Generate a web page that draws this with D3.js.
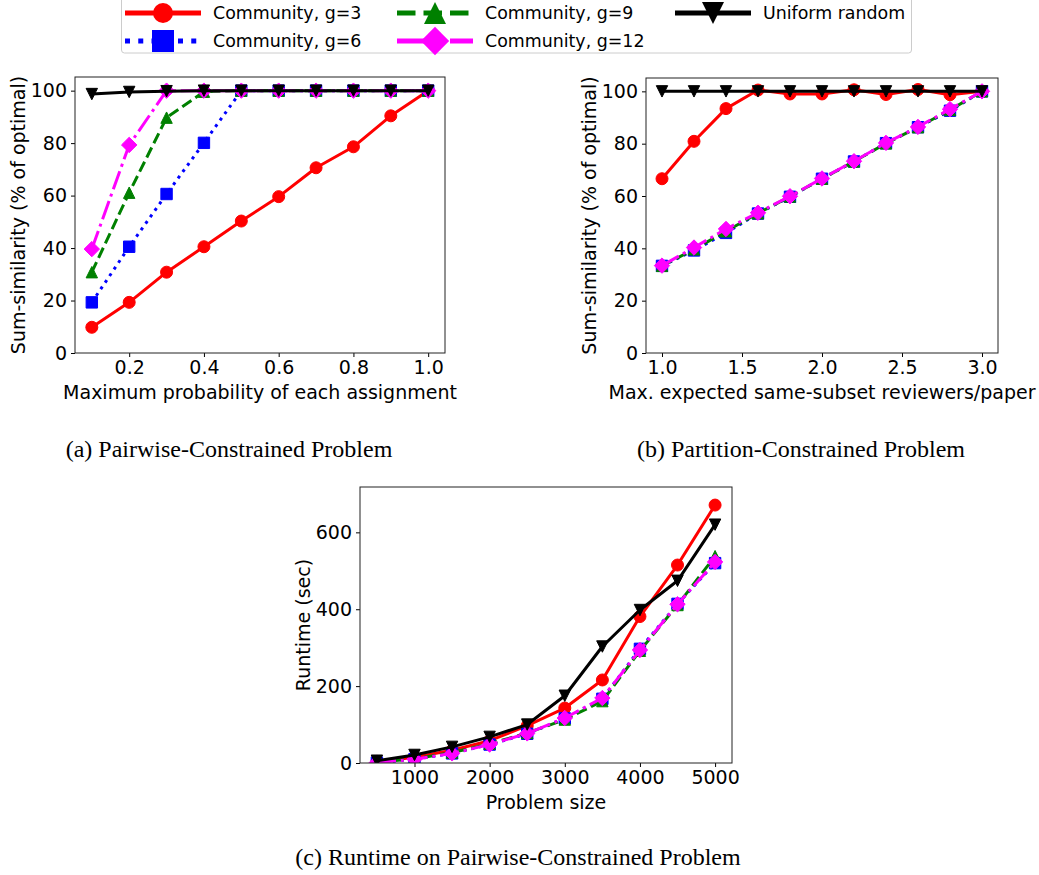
<!DOCTYPE html>
<html lang="en">
<head>
  <meta charset="UTF-8">
  <title>Sum-similarity and runtime</title>
  <script src="https://d3js.org/d3.v7.min.js"></script>
  <style>
    body {
      margin: 0;
      background: #fff;
      overflow: hidden;
    }
    svg text {
      font-family: "DejaVu Sans", sans-serif;
      fill: #000;
    }
    .caption {
      font-family: "Liberation Serif", "Times New Roman", serif !important;
      font-size: 24px;
    }
  </style>
</head>
<body>
  <svg id="chart" width="1039" height="875"></svg>

  <script>
    // ---- data ----
    const seriesNames = ["Community, g=3", "Community, g=6", "Community, g=9", "Community, g=12", "Uniform random"];

    // (a) pairwise-constrained
    const xA = [0.1, 0.2, 0.3, 0.4, 0.5, 0.6, 0.7, 0.8, 0.9, 1.0];
    const aG3 = [9.8, 19.3, 30.8, 40.5, 50.3, 59.6, 70.6, 78.6, 90.4, 100];
    const aG6 = [19.3, 40.5, 60.6, 80.1, 100, 100, 100, 100, 100, 100];
    const aG9 = [30.8, 61.1, 89.7, 99.6, 100, 100, 100, 100, 100, 100];
    const aG12 = [39.6, 79.3, 100, 100, 100, 100, 100, 100, 100, 100];
    const aUniform = [98.7, 99.5, 99.8, 100, 100, 100, 100, 100, 100, 100];

    // (b) partition-constrained
    const xB = [1.0, 1.2, 1.4, 1.6, 1.8, 2.0, 2.2, 2.4, 2.6, 2.8, 3.0];
    const bG3 = [66.6, 80.9, 93.4, 100.5, 99.0, 99.0, 100.6, 98.8, 100.7, 98.7, 100];
    const bG6 = [33.3, 39.2, 45.9, 53.3, 59.7, 66.6, 73.2, 80.2, 86.3, 92.6, 100];
    const bG9 = [33.3, 39.6, 46.5, 53.4, 59.8, 66.6, 73.2, 80.1, 86.3, 92.9, 100];
    const bG12 = [33.4, 40.3, 47.4, 53.6, 59.9, 66.7, 73.3, 80.3, 86.4, 93.2, 100];
    const bUniform = [100, 100, 100, 100, 100, 100, 100, 100, 100, 100, 100];

    // (c) runtime
    const xC = [500, 1000, 1500, 2000, 2500, 3000, 3500, 4000, 4500, 5000];
    const cG3 = [3, 15, 33, 58, 97, 143, 216, 381, 515, 671];
    const cG6 = [1, 10, 25, 48, 76, 116, 167, 297, 414, 520];
    const cG9 = [2, 11, 27, 50, 78, 113, 161, 292, 411, 538];
    const cG12 = [1, 10, 25, 48, 77, 117, 169, 294, 413, 523];
    const cUniform = [6, 21, 42, 68, 100, 175, 303, 398, 474, 620];

    // ticks
    const aXTicks = [0.2, 0.4, 0.6, 0.8, 1.0];
    const abYTicks = [0, 20, 40, 60, 80, 100];
    const bXTicks = [1.0, 1.5, 2.0, 2.5, 3.0];
    const cXTicks = [1000, 2000, 3000, 4000, 5000];
    const cYTicks = [0, 200, 400, 600];

    // ---- styles ----
    const colors = ["#ff0000", "#0000ff", "#008000", "#ff00ff", "#000000"];
    const markers = ["circle", "square", "triangleUp", "diamond", "triangleDown"];
    // dash patterns per unit line width (matplotlib style)
    const dashUnits = [null, [1, 1.65], [3.7, 1.6], [6.4, 1.6, 1, 1.6], null];

    const svg = d3.select("#chart");

    function dashFor(i, lw) {
      return dashUnits[i] ? dashUnits[i].map(d => d * lw).join(",") : null;
    }

    function markerPath(type, s) {
      // s ~ half size
      switch (type) {
        case "square":
          return `M${-s},${-s}H${s}V${s}H${-s}Z`;
        case "triangleUp":
          return `M0,${-s}L${s},${s}L${-s},${s}Z`;
        case "triangleDown":
          return `M0,${s}L${s},${-s}L${-s},${-s}Z`;
        case "diamond":
          const d = s * 1.35;
          return `M0,${-d}L${d},0L0,${d}L${-d},0Z`;
        default:
          return d3.arc()({innerRadius: 0, outerRadius: s, startAngle: 0, endAngle: 2 * Math.PI});
      }
    }

    function drawPanel(opts) {
      const {left, right, top, bottom, xDomain, yDomain, xs, series, xTicks, yTicks, xFmt, xLabel, yLabel} = opts;
      const x = d3.scaleLinear().domain(xDomain).range([left, right]);
      const y = d3.scaleLinear().domain(yDomain).range([bottom, top]);
      const g = svg.append("g");

      const clipId = "clip" + Math.round(left);
      g.append("clipPath").attr("id", clipId)
        .append("rect").attr("x", left).attr("y", top)
        .attr("width", right - left).attr("height", bottom - top);

      const plot = g.append("g").attr("clip-path", `url(#${clipId})`);
      const line = d3.line().x((d, j) => x(xs[j])).y(d => y(d));

      series.forEach((vals, i) => {
        plot.append("path")
          .attr("d", line(vals))
          .attr("fill", "none")
          .attr("stroke", colors[i])
          .attr("stroke-width", 3)
          .attr("stroke-linejoin", "round")
          .attr("stroke-dasharray", dashFor(i, 3));

        plot.selectAll(null)
          .data(vals)
          .join("path")
          .attr("transform", (d, j) => `translate(${x(xs[j])},${y(d)})`)
          .attr("d", markerPath(markers[i], markers[i] === "circle" ? 6 : 5.7))
          .attr("fill", colors[i])
          .attr("stroke", colors[i])
          .attr("stroke-width", 1);
      });

      const xAxis = g.append("g")
        .attr("transform", `translate(0,${bottom})`)
        .call(d3.axisBottom(x).tickValues(xTicks).tickFormat(xFmt).tickSize(4).tickPadding(4).tickSizeOuter(0));
      const yAxis = g.append("g")
        .attr("transform", `translate(${left},0)`)
        .call(d3.axisLeft(y).tickValues(yTicks).tickFormat(d3.format("d")).tickSize(4).tickPadding(4).tickSizeOuter(0));
      [xAxis, yAxis].forEach(a => {
        a.select(".domain").remove();
        a.selectAll("line").attr("stroke", "#000");
        a.selectAll("text").style("font-size", "19px").attr("font-family", null);
      });

      g.append("rect")
        .attr("x", left).attr("y", top)
        .attr("width", right - left).attr("height", bottom - top)
        .attr("fill", "none").attr("stroke", "#222").attr("stroke-width", 1);

      g.append("text")
        .attr("x", (left + right) / 2).attr("y", bottom + 39)
        .attr("dy", "0.35em")
        .attr("text-anchor", "middle")
        .style("font-size", "19px")
        .text(xLabel);

      g.append("text")
        .attr("transform", `translate(${left - 57},${(top + bottom) / 2}) rotate(-90)`)
        .attr("dy", "0.35em")
        .attr("text-anchor", "middle")
        .style("font-size", "19px")
        .text(yLabel);
    }

    drawPanel({
      left: 75, right: 445, top: 77, bottom: 353,
      xDomain: [0.055, 1.045], yDomain: [0, 105.2],
      xs: xA, series: [aG3, aG6, aG9, aG12, aUniform],
      xTicks: aXTicks, yTicks: abYTicks, xFmt: d3.format(".1f"),
      xLabel: "Maximum probability of each assignment",
      yLabel: "Sum-similarity (% of optimal)"
    });

    drawPanel({
      left: 646, right: 998, top: 78, bottom: 353,
      xDomain: [0.9, 3.1], yDomain: [0, 105.1],
      xs: xB, series: [bG3, bG6, bG9, bG12, bUniform],
      xTicks: bXTicks, yTicks: abYTicks, xFmt: d3.format(".1f"),
      xLabel: "Max. expected same-subset reviewers/paper",
      yLabel: "Sum-similarity (% of optimal)"
    });

    drawPanel({
      left: 360, right: 732, top: 487, bottom: 763,
      xDomain: [275, 5225], yDomain: [0, 718],
      xs: xC, series: [cG3, cG6, cG9, cG12, cUniform],
      xTicks: cXTicks, yTicks: cYTicks, xFmt: d3.format("d"),
      xLabel: "Problem size",
      yLabel: "Runtime (sec)"
    });

    // ---- captions ----
    const captions = [
      {text: "(a) Pairwise-Constrained Problem", x: 229, y: 449},
      {text: "(b) Partition-Constrained Problem", x: 801, y: 449},
      {text: "(c) Runtime on Pairwise-Constrained Problem", x: 518, y: 857}
    ];
    svg.selectAll(".caption")
      .data(captions)
      .join("text")
      .attr("class", "caption")
      .attr("x", d => d.x).attr("y", d => d.y)
      .attr("dy", "0.35em")
      .attr("text-anchor", "middle")
      .text(d => d.text);

    // ---- legend ----
    const legend = svg.append("g");
    legend.append("rect")
      .attr("x", 121.5).attr("y", -4)
      .attr("width", 790).attr("height", 57)
      .attr("rx", 3)
      .attr("fill", "#fff").attr("stroke", "#ccc").attr("stroke-width", 1);

    const legendPos = [
      {x: 125, y: 13}, {x: 125, y: 41},
      {x: 397, y: 13}, {x: 397, y: 41},
      {x: 675, y: 13}
    ];
    const legendMarkerSize = [10, 11, 11, 10.5, 11];

    seriesNames.forEach((name, i) => {
      const p = legendPos[i];
      const item = legend.append("g").attr("transform", `translate(${p.x},${p.y})`);
      item.append("line")
        .attr("x1", 0).attr("x2", 76).attr("y1", 0).attr("y2", 0)
        .attr("stroke", colors[i]).attr("stroke-width", 5)
        .attr("stroke-dasharray", dashFor(i, 5));
      item.append("path")
        .attr("transform", "translate(38,0)")
        .attr("d", markerPath(markers[i], legendMarkerSize[i]))
        .attr("fill", colors[i]);
      item.append("text")
        .attr("x", 88).attr("y", 0).attr("dy", "0.35em")
        .style("font-size", "17.4px")
        .text(name);
    });
  </script>
</body>
</html>
